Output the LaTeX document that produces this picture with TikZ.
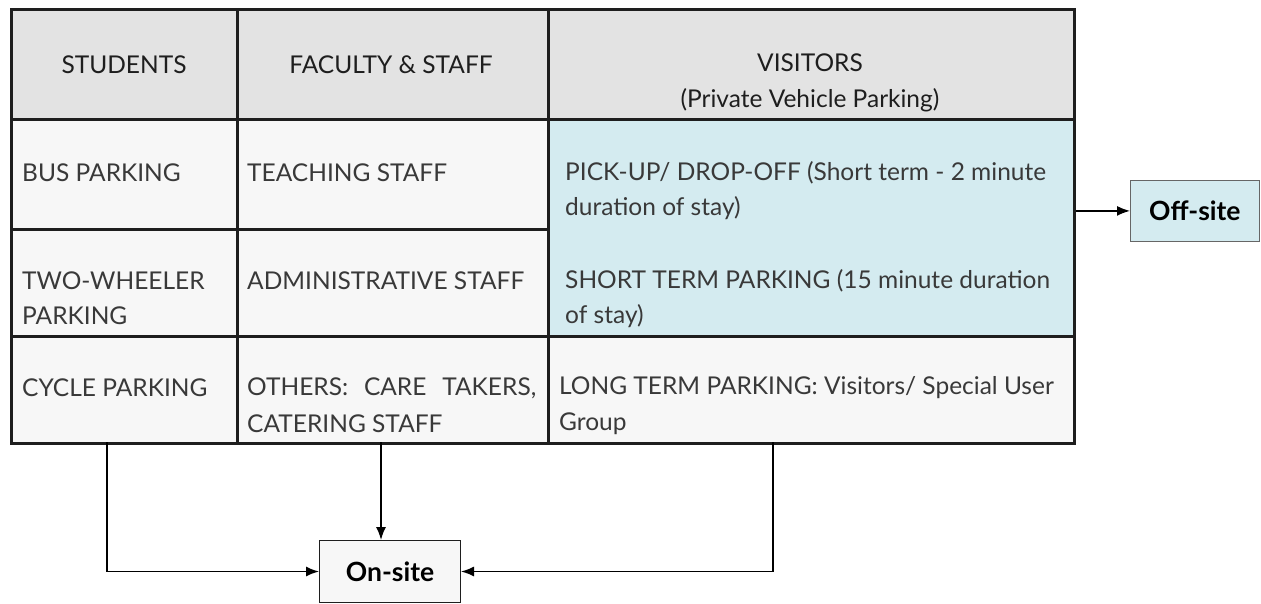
\documentclass[tikz,border=0pt]{standalone}
\usepackage{fontspec}
\setmainfont{Lato}
\usetikzlibrary{arrows.meta,calc}
\definecolor{headgray}{HTML}{E3E3E3}
\definecolor{cellgray}{HTML}{F7F7F7}
\definecolor{softblue}{HTML}{D4EBF0}
\definecolor{ink}{HTML}{1E1E1E}
\begin{document}
\begin{tikzpicture}[x=1pt,y=-1pt,
  cell/.style={draw=ink,line width=2.8pt,rectangle,inner sep=0pt,anchor=north west},
  headtext/.style={font=\fontsize{24.5}{30}\selectfont,text=ink,inner sep=0pt,align=center},
  bodytext/.style={font=\fontsize{24.5}{30}\selectfont,text=ink!88,inner sep=0pt,anchor=west},
  sitebox/.style={rectangle,inner sep=0pt,font=\fontsize{26.5}{30}\selectfont\bfseries,text=black},
  arr/.style={draw=black,line width=1.5pt,-{Latex[length=13pt,width=10pt]}}]
\useasboundingbox (0,0) rectangle (1261,603);

% header row
\node[cell,fill=headgray,minimum width=226pt,minimum height=110pt] (hS) at (10,8) {};
\node[cell,fill=headgray,minimum width=311pt,minimum height=110pt] (hF) at (236,8) {};
\node[cell,fill=headgray,minimum width=526pt,minimum height=110pt] (hV) at (547,8) {};
% body rows
\node[cell,fill=cellgray,minimum width=226pt,minimum height=110pt] (b11) at (10,118) {};
\node[cell,fill=cellgray,minimum width=311pt,minimum height=110pt] (b12) at (236,118) {};
\node[cell,fill=cellgray,minimum width=226pt,minimum height=107pt] (b21) at (10,228) {};
\node[cell,fill=cellgray,minimum width=311pt,minimum height=107pt] (b22) at (236,228) {};
\node[cell,fill=softblue,minimum width=526pt,minimum height=217pt] (bV) at (547,118) {};
\node[cell,fill=cellgray,minimum width=226pt,minimum height=107pt] (b31) at (10,335) {};
\node[cell,fill=cellgray,minimum width=311pt,minimum height=107pt] (b32) at (236,335) {};
\node[cell,fill=cellgray,minimum width=526pt,minimum height=107pt] (b33) at (547,335) {};

% header texts
\node[headtext] (tS) at (124,65) {STUDENTS};
\node[headtext] (tF) at (391,65) {FACULTY \& STAFF};
\node[headtext] (tV1) at (810,63) {VISITORS};
\node[headtext] (tV2) at (810,100) {(Private Vehicle Parking)};

% body texts
\node[bodytext] (t11) at (22,173) {BUS PARKING};
\node[bodytext] (t12) at (247,173) {TEACHING STAFF};
\node[bodytext] (t13a) at (565,173) {PICK-UP/ DROP-OFF (Short term - 2 minute};
\node[bodytext] (t13b) at (565,208) {duration of stay)};
\node[bodytext] (t21a) at (22,281) {TWO-WHEELER};
\node[bodytext] (t21b) at (22,316) {PARKING};
\node[bodytext] (t22) at (247,281) {ADMINISTRATIVE STAFF};
\node[bodytext] (t23a) at (565,281) {SHORT TERM PARKING (15 minute duration};
\node[bodytext] (t23b) at (565,316) {of stay)};
\node[bodytext] (t31) at (22,388) {CYCLE PARKING};
\node[bodytext] (t32a) at (247,388) {\makebox[289pt][s]{OTHERS:\hfill CARE\hfill TAKERS,}};
\node[bodytext] (t32b) at (247,424) {CATERING STAFF};
\node[bodytext] (t33a) at (559,388) {LONG TERM PARKING: Visitors/ Special User};
\node[bodytext] (t33b) at (559,424) {Group};

% destination boxes
\node[sitebox,draw=gray!80!black,line width=0.8pt,fill=softblue,minimum width=129pt,minimum height=61pt,anchor=north west] (offsite) at (1130,180) {Off-site};
\node[sitebox,draw=ink,line width=1pt,fill=cellgray,minimum width=141pt,minimum height=62pt,anchor=north west] (onsite) at (319,540) {On-site};

% connectors
\coordinate (s1) at (107,442);
\coordinate (s2) at (381,442);
\coordinate (s3) at (773,442);
\draw[arr] (bV.east |- offsite.west) -- (offsite.west);
\draw[arr] (s1) |- (onsite.west);
\draw[arr] (s2) -- (s2 |- onsite.north);
\draw[arr] (s3) |- (onsite.east);
\end{tikzpicture}
\end{document}
